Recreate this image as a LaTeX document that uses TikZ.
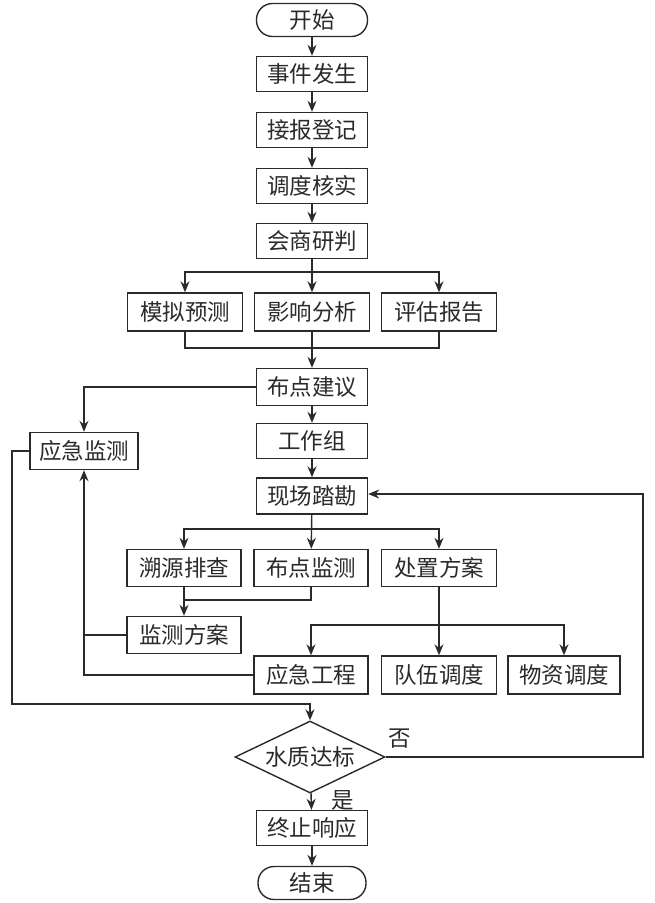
\documentclass[tikz,border=0pt]{standalone}
\usepackage{fontspec}
\newfontfamily\cjk{Noto Sans CJK SC}
\usetikzlibrary{arrows.meta,shapes.geometric}
\definecolor{ink}{HTML}{2A2A2A}
\begin{document}
\begin{tikzpicture}[x=1pt,y=-1pt,
  font=\cjk\fontsize{22.5}{24}\selectfont,
  every node/.style={text=ink},
  box/.style={draw=ink, line width=1.4pt, minimum width=111pt, minimum height=35pt, inner sep=0pt},
  wbox/.style={box, minimum width=115pt, minimum height=38pt},
  term/.style={box, rounded corners=16pt, minimum height=33pt},
  dia/.style={draw=ink, line width=1.4pt, diamond, aspect=2.08, minimum width=150pt, minimum height=72pt, inner sep=0pt},
  ln/.style={draw=ink, line width=1.4pt},
  arr/.style={ln, -{Stealth[length=11pt,width=9pt]}},
  lab/.style={inner sep=0pt}]
\useasboundingbox (0,0) rectangle (654,903);

\node[term] (start) at (312,20) {开始};
\node[box] (e1) at (312,74) {事件发生};
\node[box] (e2) at (312,130) {接报登记};
\node[box] (e3) at (312,186) {调度核实};
\node[box] (e4) at (312,241) {会商研判};
\node[wbox] (m1) at (185,312) {模拟预测};
\node[wbox] (m2) at (312,312) {影响分析};
\node[wbox] (m3) at (439,312) {评估报告};
\node[box, minimum height=37pt] (b1) at (312,387) {布点建议};
\node[box, minimum width=108pt, minimum height=37pt] (jc) at (84,451) {应急监测};
\node[box] (g) at (312,441) {工作组};
\node[box, minimum height=36pt] (xc) at (312,496) {现场踏勘};
\node[box, minimum width=114pt, minimum height=37pt] (s1) at (184,568) {溯源排查};
\node[box, minimum width=114pt, minimum height=37pt] (s2) at (311,568) {布点监测};
\node[box, minimum width=115pt, minimum height=37pt] (s3) at (439,568) {处置方案};
\node[box, minimum width=114pt, minimum height=37pt] (fa) at (184,635) {监测方案};
\node[box, minimum width=114pt, minimum height=38pt] (p1) at (311,675) {应急工程};
\node[box, minimum width=115pt, minimum height=38pt] (p2) at (439,675) {队伍调度};
\node[box, minimum width=112pt, minimum height=38pt] (p3) at (564,675) {物资调度};
\node[dia] (d) at (310,757) {水质达标};
\node[box] (t1) at (312,828) {终止响应};
\node[term, minimum width=108pt] (fin) at (312,883) {结束};
\node[lab] (no) at (400,739) {否};
\node[lab] (yes) at (343,800) {是};

\coordinate (j1) at (312,272);
\coordinate (j2) at (312,348);
\coordinate (j3) at (312,529);
\coordinate (j4) at (184,600);
\coordinate (j5) at (439,625);
\coordinate (k1) at (84,635);
\coordinate (L) at (12,704);
\coordinate (R) at (643,494);

\draw[arr] (start) -- (e1);
\draw[arr] (e1) -- (e2);
\draw[arr] (e2) -- (e3);
\draw[arr] (e3) -- (e4);
\draw[arr] (e4) -- (m2);
\draw[arr] (j1) -| (m1.north);
\draw[arr] (j1) -| (m3.north);
\draw[ln] (m1.south) |- (j2) -| (m3.south);
\draw[arr] (m2) -- (b1);
\draw[arr] (b1.west) -| (jc.north);
\draw[arr] (b1) -- (g);
\draw[arr] (g) -- (xc);
\draw[arr] (xc) -- (s2);
\draw[arr] (j3) -| (s1.north);
\draw[arr] (j3) -| (s3.north);
\draw[arr] (s1) -- (fa);
\draw[ln] (s2.south) |- (j4);
\draw[arr] (s3) -- (p2);
\draw[arr] (j5) -| (p1.north);
\draw[arr] (j5) -| (p3.north);
\draw[ln] (fa.west) -- (k1);
\draw[arr] (p1.west) -| (jc.south);
\draw[arr] (jc.west) -| (L) -| (d.north);
\draw[arr] (d.east) -| (R) -- (xc.east |- R);
\draw[arr] (d) -- (t1);
\draw[arr] (t1) -- (fin);
\end{tikzpicture}
\end{document}
